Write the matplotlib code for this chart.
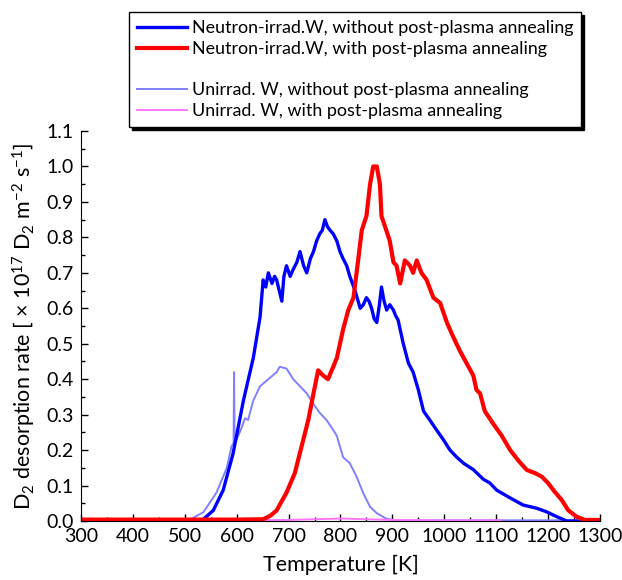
import matplotlib
matplotlib.use('Agg')
import matplotlib.pyplot as plt
import numpy as np

# Neutron-irradiated W, without post-plasma annealing
t_nb = [300, 400, 500, 535, 555, 574, 593, 613, 632, 645, 651, 656, 661, 668, 673, 677, 687, 691, 696,
        703, 709, 716, 722, 729, 735, 742, 748, 754, 760, 765, 770, 775, 780, 786, 793,
        799, 805, 812, 818, 828, 838, 844, 850, 855, 860, 865, 870, 875, 879, 884, 889,
        895, 902, 906, 911, 921, 931, 940, 950, 960, 972, 985, 998, 1011, 1024, 1037,
        1056, 1075, 1088, 1101, 1127, 1152, 1178, 1197, 1217, 1236, 1250, 1300]
v_nb = [0.0, 0.0, 0.0, 0.004, 0.03, 0.087, 0.19, 0.34, 0.46, 0.575, 0.68, 0.66, 0.70, 0.67, 0.69, 0.68, 0.62, 0.69, 0.72,
        0.69, 0.71, 0.73, 0.76, 0.72, 0.70, 0.74, 0.76, 0.79, 0.81, 0.82, 0.85, 0.83, 0.82, 0.81, 0.79,
        0.76, 0.74, 0.72, 0.69, 0.65, 0.60, 0.61, 0.63, 0.62, 0.60, 0.57, 0.56, 0.61, 0.66, 0.62, 0.595,
        0.61, 0.595, 0.58, 0.567, 0.50, 0.445, 0.42, 0.37, 0.31, 0.285, 0.257, 0.23, 0.20, 0.18, 0.163,
        0.145, 0.118, 0.107, 0.087, 0.065, 0.045, 0.036, 0.026, 0.012, 0.0, 0.0, 0.0]

# Neutron-irradiated W, with post-plasma annealing
t_na = [300, 400, 500, 600, 651, 665, 677, 696, 712, 725, 738, 748, 757, 767, 776, 786,
        793, 805, 815, 825, 834, 841, 850, 857, 863, 870, 876, 879, 886, 895, 902, 908,
        915, 924, 934, 940, 947, 956, 966, 979, 992, 1005, 1017, 1030, 1043, 1056, 1062,
        1069, 1078, 1094, 1111, 1127, 1143, 1159, 1175, 1188, 1200, 1213, 1226, 1239,
        1255, 1271, 1300]
v_na = [0.004, 0.004, 0.004, 0.004, 0.005, 0.015, 0.03, 0.08, 0.135, 0.21, 0.285, 0.36, 0.425, 0.41, 0.40, 0.435,
        0.46, 0.54, 0.595, 0.63, 0.735, 0.82, 0.86, 0.95, 1.0, 1.0, 0.95, 0.86, 0.83, 0.79, 0.73, 0.72,
        0.67, 0.735, 0.72, 0.70, 0.735, 0.70, 0.68, 0.63, 0.615, 0.56, 0.52, 0.48, 0.445, 0.41, 0.37,
        0.36, 0.31, 0.275, 0.24, 0.20, 0.17, 0.144, 0.135, 0.125, 0.107, 0.082, 0.06, 0.03,
        0.012, 0.003, 0.003]

# Unirradiated W, without post-plasma annealing
t_ub = [300, 400, 510, 536, 561, 581, 590, 594, 595, 596, 600, 610, 616, 622, 632, 645,
        661, 677, 683, 696, 709, 722, 735, 748, 760, 773, 786, 793, 805, 818, 831, 844,
        857, 870, 889, 908, 1000, 1300]
v_ub = [0.002, 0.002, 0.004, 0.025, 0.08, 0.15, 0.21, 0.22, 0.42, 0.22, 0.23, 0.265, 0.29, 0.285, 0.34, 0.38,
        0.40, 0.42, 0.435, 0.43, 0.40, 0.38, 0.36, 0.33, 0.305, 0.285, 0.257, 0.24, 0.18, 0.163, 0.125, 0.078,
        0.04, 0.022, 0.006, 0.002, 0.002, 0.002]

# Unirradiated W, with post-plasma annealing
t_ua = [300, 500, 700, 750, 800, 850, 900, 1000, 1110]
v_ua = [0.002, 0.002, 0.003, 0.005, 0.007, 0.005, 0.003, 0.002, 0.002]

labels = ['Neutron-irrad.W, without post-plasma annealing',
          'Neutron-irrad.W, with post-plasma annealing',
          'Unirrad. W, without post-plasma annealing',
          'Unirrad. W, with post-plasma annealing']

plt.rcParams['font.family'] = ['Lato', 'DejaVu Sans']
plt.rcParams['mathtext.default'] = 'regular'

fig = plt.figure(figsize=(6.22, 5.8), dpi=100)
ax = fig.add_axes([0.1302, 0.1017, 0.8344, 0.6724])

l3, = ax.plot(t_ub, v_ub, color='#8080ff', lw=1.4)
l4, = ax.plot(t_ua, v_ua, color='#ff77ff', lw=1.4)
l1, = ax.plot(t_nb, v_nb, color='#0000ff', lw=2.4)
l2, = ax.plot(t_na, v_na, color='#ff0000', lw=3.0)

ax.set_xlim(300, 1300)
ax.set_ylim(0, 1.1)
ax.set_xticks(np.arange(300, 1301, 100))
ax.set_xticks(np.arange(350, 1300, 100), minor=True)
ax.set_yticks(np.arange(0, 1.11, 0.1))
ax.set_yticks(np.arange(0.05, 1.1, 0.1), minor=True)
ax.set_yticklabels(['%.1f' % v for v in np.arange(0, 1.11, 0.1)])
ax.tick_params(which='both', direction='in', labelsize=14, width=1)
ax.tick_params(which='major', length=5)
ax.tick_params(which='minor', length=3)
ax.tick_params(axis='x', pad=5)
ax.tick_params(axis='y', pad=5)
ax.spines['top'].set_visible(False)
ax.spines['right'].set_visible(False)

ax.set_xlabel('Temperature [K]', fontsize=15.5, labelpad=7)
ax.set_ylabel('D$_2$ desorption rate [ $\\times$ 10$^{17}$ D$_2$ m$^{-2}$ s$^{-1}$]', fontsize=15.5,
              labelpad=6)

blank, = ax.plot([], [], color='none')
leg = fig.legend([l1, l2, blank, l3, l4], [labels[0], labels[1], ' ', labels[2], labels[3]],
                 loc='upper left', bbox_to_anchor=(0.2074, 0.979), fontsize=12.9,
                 frameon=True, fancybox=False, shadow={'color': 'black', 'alpha': 1},
                 handlelength=2.8, handletextpad=0.25, labelspacing=0.26,
                 borderpad=0.45, borderaxespad=0)
leg.get_frame().set_edgecolor('black')
leg.get_frame().set_linewidth(1)
leg.get_frame().set_alpha(1)

fig.savefig('out.png', dpi=100)
